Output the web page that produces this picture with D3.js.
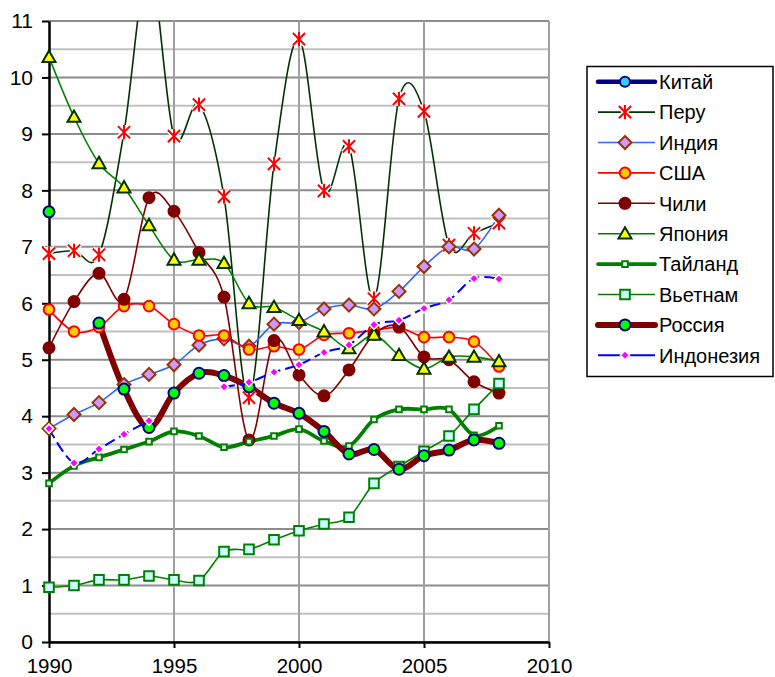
<!DOCTYPE html>
<html>
<head>
<meta charset="utf-8">
<script src="https://cdn.jsdelivr.net/npm/d3@7"></script>
<style>
  html, body { margin: 0; padding: 0; background: #fff; }
  svg { display: block; font-family: "Liberation Sans", Arial, sans-serif; }
</style>
</head>
<body>
<div id="chart"></div>
<script>
const width = 775;
const height = 677;
const plot = {left: 49, right: 549, top: 21, bottom: 642};

// data (null = no value that year)
const years = [1990, 1991, 1992, 1993, 1994, 1995, 1996, 1997, 1998, 1999,
               2000, 2001, 2002, 2003, 2004, 2005, 2006, 2007, 2008];
const china = [null, null, null, null, null, null, null, null, null, null,
               null, null, null, null, null, null, null, null, null];
const peru = [6.88, 6.93, 6.86, 9.03, 12.0, 8.96, 9.52, 7.89, 4.33, 8.47,
              10.68, 7.99, 8.78, 6.08, 9.62, 9.40, 7.03, 7.24, 7.42];
const india = [3.78, 4.03, 4.24, 4.56, 4.74, 4.91, 5.26, 5.37, 5.24, 5.63,
               5.66, 5.90, 5.97, 5.90, 6.21, 6.65, 7.00, 6.96, 7.56];
const usa = [5.89, 5.50, 5.58, 5.95, 5.95, 5.63, 5.43, 5.43, 5.18, 5.24,
             5.18, 5.44, 5.47, 5.52, 5.57, 5.40, 5.40, 5.32, 4.88];
const chile = [5.21, 6.03, 6.53, 6.07, 7.87, 7.63, 6.90, 6.11, 3.58, 5.34,
               4.73, 4.36, 4.82, 5.45, 5.59, 5.05, 5.00, 4.61, 4.41];
const japan = [10.36, 9.30, 8.48, 8.05, 7.38, 6.77, 6.77, 6.71, 6.00, 5.93,
               5.70, 5.50, 5.20, 5.44, 5.08, 4.84, 5.05, 5.05, 4.97];
const thailand = [2.81, 3.12, 3.27, 3.41, 3.55, 3.73, 3.65, 3.45, 3.55, 3.65,
                  3.77, 3.56, 3.47, 3.94, 4.12, 4.12, 4.12, 3.66, 3.83];
const vietnam = [0.97, 1.00, 1.10, 1.10, 1.17, 1.10, 1.09, 1.60, 1.64, 1.81,
                 1.97, 2.09, 2.21, 2.81, 3.11, 3.38, 3.65, 4.12, 4.58];
const russia = [7.62, null, 5.65, 4.48, 3.80, 4.41, 4.76, 4.72, 4.52, 4.23,
                4.05, 3.73, 3.33, 3.41, 3.06, 3.30, 3.40, 3.58, 3.52];
const indonesia = [3.78, 3.17, 3.42, 3.68, 3.92, null, null, 4.52, 4.60, 4.78,
                   4.91, 5.13, 5.26, 5.62, 5.70, 5.91, 6.06, 6.44, 6.43];

const xTicks = [1990, 1995, 2000, 2005, 2010];
const yTicks = [0, 1, 2, 3, 4, 5, 6, 7, 8, 9, 10, 11];
const yMinor = [0.5, 1.5, 2.5, 3.5, 4.5, 5.5, 6.5, 7.5, 8.5, 9.5, 10.5];

// series in legend order, with their look
const series = [
  {name: 'Китай', values: china, line: '#000080', lw: 4.5, marker: 'circle', size: 5, fill: '#33CCFF', stroke: '#000080'},
  {name: 'Перу', values: peru, line: '#003300', lw: 1.6, marker: 'star', size: 6.8, fill: 'none', stroke: '#FF0000'},
  {name: 'Индия', values: india, line: '#3366FF', lw: 1.6, marker: 'diamond', size: 6.5, fill: '#CC99FF', stroke: '#993300'},
  {name: 'США', values: usa, line: '#FF0000', lw: 1.6, marker: 'circle', size: 5.3, fill: '#FFCC00', stroke: '#FF0000'},
  {name: 'Чили', values: chile, line: '#800000', lw: 1.6, marker: 'circle', size: 5.5, fill: '#800000', stroke: '#800000'},
  {name: 'Япония', values: japan, line: '#008000', lw: 1.6, marker: 'triangle', size: 6.5, fill: '#FFFF00', stroke: '#003300'},
  {name: 'Тайланд', values: thailand, line: '#008000', lw: 3.8, marker: 'square', size: 2.8, fill: '#FFFFFF', stroke: '#008000'},
  {name: 'Вьетнам', values: vietnam, line: '#008000', lw: 1.6, marker: 'square', size: 4.8, fill: '#CCFFFF', stroke: '#008000'},
  {name: 'Россия', values: russia, line: '#800000', lw: 6, marker: 'circle', size: 5.5, fill: '#00FF00', stroke: '#000080'},
  {name: 'Индонезия', values: indonesia, line: '#0000FF', lw: 2, dash: '11,5', marker: 'diamond', size: 4.5, fill: '#FF00FF', stroke: '#FFFFFF'}
];

const x = d3.scaleLinear().domain([1990, 2010]).range([plot.left, plot.right]);
const y = d3.scaleLinear().domain([0, 11]).range([plot.bottom, plot.top]);

const svg = d3.select("#chart").append("svg").attr("width", width).attr("height", height);

svg.append("clipPath").attr("id", "clip")
  .append("rect")
  .attr("x", plot.left).attr("y", plot.top)
  .attr("width", plot.right - plot.left).attr("height", plot.bottom - plot.top);

// grid
const grid = svg.append("g");
grid.selectAll("line.minor").data(yMinor).enter().append("line")
  .attr("x1", plot.left).attr("x2", plot.right)
  .attr("y1", d => y(d)).attr("y2", d => y(d))
  .attr("stroke", "#C0C0C0").attr("stroke-width", 2);
grid.selectAll("line.major").data(yTicks).enter().append("line")
  .attr("x1", plot.left).attr("x2", plot.right)
  .attr("y1", d => y(d)).attr("y2", d => y(d))
  .attr("stroke", "#8C8C8C").attr("stroke-width", 2);
grid.selectAll("line.v").data(xTicks.slice(1)).enter().append("line")
  .attr("x1", d => x(d)).attr("x2", d => x(d))
  .attr("y1", plot.top).attr("y2", plot.bottom)
  .attr("stroke", "#A0A0A0").attr("stroke-width", 2);

/**
 * Path for one marker shape centred on 0,0.
 */
function markerPath(shape, s) {
  if (shape === 'star') {
    const d = s * 0.9;
    return `M${-d},${-d}L${d},${d}M${-d},${d}L${d},${-d}M0,${-s * 1.05}L0,${s * 1.05}`;
  }
  if (shape === 'circle') {
    return d3.symbol(d3.symbolCircle, Math.PI * s * s)();
  }
  if (shape === 'diamond') {
    return `M0,${-s}L${s},0L0,${s}L${-s},0Z`;
  }
  if (shape === 'triangle') {
    return `M0,${-s}L${s},${s * 0.75}L${-s},${s * 0.75}Z`;
  }
  return `M${-s},${-s}H${s}V${s}H${-s}Z`;
}

function drawMarker(g, s, cx, cy) {
  if (s.marker === 'star') {
    g.append("path").attr("d", markerPath('star', s.size))
      .attr("transform", `translate(${cx},${cy})`)
      .attr("fill", "none").attr("stroke", "#FFFFFF").attr("stroke-width", 5);
    g.append("path").attr("d", markerPath('star', s.size))
      .attr("transform", `translate(${cx},${cy})`)
      .attr("fill", "none").attr("stroke", s.stroke).attr("stroke-width", 2);
    return;
  }
  g.append("path").attr("d", markerPath(s.marker, s.size))
    .attr("transform", `translate(${cx},${cy})`)
    .attr("fill", s.fill).attr("stroke", s.stroke)
    .attr("stroke-width", s.stroke === '#FFFFFF' ? 1.5 : 2);
}

// axes
svg.append("g")
  .attr("transform", `translate(${plot.left},0)`)
  .call(d3.axisLeft(y).tickValues(yTicks).tickSize(7).tickPadding(9).tickSizeOuter(0))
  .call(g => g.selectAll("line").attr("stroke", "#000").attr("stroke-width", 2))
  .call(g => g.select(".domain").attr("stroke", "#000").attr("stroke-width", 2.5))
  .call(g => g.selectAll("text").attr("font-size", 21).attr("fill", "#000")
    .attr("font-family", "'Liberation Sans', Arial, sans-serif"));

svg.append("g")
  .attr("transform", `translate(0,${plot.bottom})`)
  .call(d3.axisBottom(x).tickValues(xTicks).tickFormat(d3.format("d")).tickSize(6).tickPadding(10).tickSizeOuter(0))
  .call(g => g.selectAll("line").attr("stroke", "#000").attr("stroke-width", 2))
  .call(g => g.select(".domain").attr("stroke", "#000").attr("stroke-width", 2.5))
  .call(g => g.selectAll("text").attr("font-size", 20.5).attr("fill", "#000")
    .attr("font-family", "'Liberation Sans', Arial, sans-serif"));

// series lines (clipped to the plot) and markers (drawn over the axes)
const lines = svg.append("g").attr("clip-path", "url(#clip)");
const marks = svg.append("g");
const line = d3.line()
  .defined(d => d.v !== null)
  .x(d => x(d.year))
  .y(d => y(d.v))
  .curve(d3.curveCatmullRom.alpha(0));

for (const s of series) {
  const data = years.map((year, i) => ({year, v: s.values[i]}));
  lines.append("path")
    .attr("d", line(data))
    .attr("fill", "none")
    .attr("stroke", s.line)
    .attr("stroke-width", s.lw)
    .attr("stroke-linejoin", "round")
    .attr("stroke-dasharray", s.dash || null);
  const g = marks.append("g");
  for (const d of data) {
    if (d.v === null || d.v > 11) continue;
    drawMarker(g, s, x(d.year), y(d.v));
  }
}

// legend
const legend = svg.append("g");
legend.append("rect")
  .attr("x", 587).attr("y", 66.5).attr("width", 186).attr("height", 310)
  .attr("fill", "#fff").attr("stroke", "#000").attr("stroke-width", 1.5);

series.forEach((s, i) => {
  const ly = 81.7 + i * 30.4;
  legend.append("line")
    .attr("x1", 598).attr("x2", 655).attr("y1", ly).attr("y2", ly)
    .attr("stroke", s.line).attr("stroke-width", s.lw)
    .attr("stroke-linecap", s.lw > 3 ? "round" : "butt");
  drawMarker(legend, s, 625, ly);
  legend.append("text")
    .attr("x", 659).attr("y", ly).attr("dy", "0.36em")
    .attr("font-size", 20).attr("fill", "#000")
    .text(s.name);
});
</script>
</body>
</html>
